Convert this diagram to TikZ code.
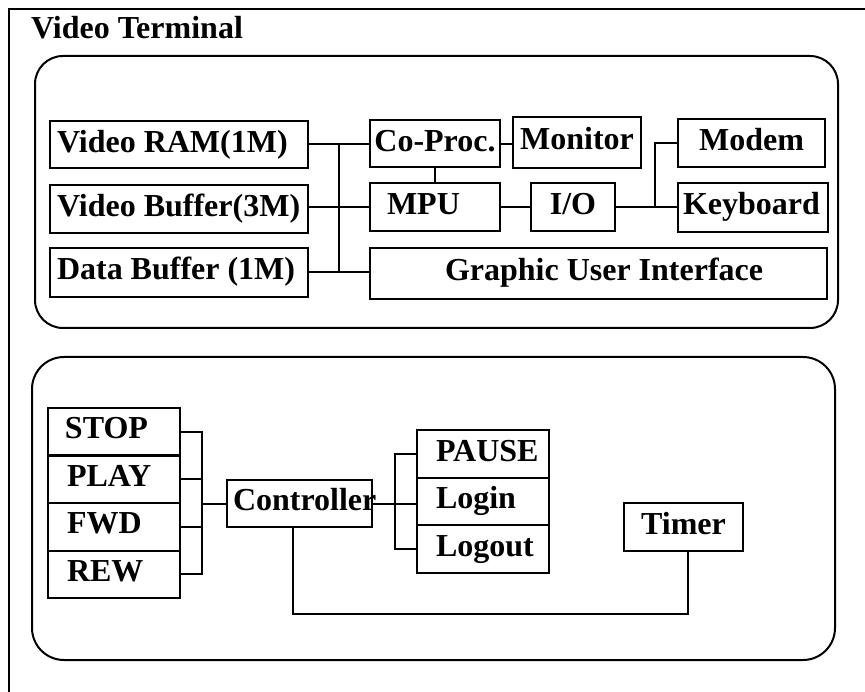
\documentclass[tikz,border=0pt]{standalone}
\usepackage{fontspec}
\setmainfont{Liberation Serif}
\newcommand\lbx[3]{\makebox[#1][l]{\hspace*{#2}#3}}
\begin{document}
\begin{tikzpicture}[x=1pt,y=-1pt,line width=2pt,
  every node/.append style={font=\fontsize{32}{38}\selectfont\bfseries},
  box/.style={draw,line width=2pt,inner sep=0pt,text height=22.4pt,text depth=8pt}]
\useasboundingbox (0,0) rectangle (865,692);
\clip (0,0) rectangle (865,692);
% outer frame (cut off at right and bottom)
\draw (9,700) -- (9,9) -- (880,9);
\node[anchor=base west,inner sep=0pt] (title) at (30,39) {Video Terminal};
% group frames
\draw[rounded corners=28pt] (35,56) rectangle (838,328);
\draw[rounded corners=32pt] (32,357) rectangle (835,660);
% upper boxes
\node[box,minimum width=258pt,minimum height=47pt] (vram) at (179,145) {\lbx{258pt}{7pt}{Video RAM(1M)}};
\node[box,minimum width=258pt,minimum height=48pt] (vbuf) at (179,209) {\lbx{258pt}{7pt}{Video Buffer(3M)}};
\node[box,minimum width=258pt,minimum height=49pt] (dbuf) at (179,272.5) {\lbx{258pt}{7pt}{Data Buffer (1M)}};
\node[box,minimum width=130pt,minimum height=47pt] (coproc) at (435,144) {Co-Proc.};
\node[box,minimum width=130pt,minimum height=48pt] (mpu) at (435,207) {\lbx{130pt}{17pt}{MPU}};
\node[box,minimum width=457pt,minimum height=51pt] (gui) at (598.5,273.5) {\lbx{457pt}{75pt}{Graphic User Interface}};
\node[box,minimum width=128pt,minimum height=51pt] (monitor) at (577,142.5) {Monitor};
\node[box,minimum width=84pt,minimum height=48pt] (io) at (573,207) {I/O};
\node[box,minimum width=147pt,minimum height=48pt] (modem) at (751.5,143) {Modem};
\node[box,minimum width=150pt,minimum height=49pt] (kbd) at (753,207.5) {\lbx{150pt}{5pt}{Keyboard}};
% upper connectors
\coordinate (b0) at (339,0);
\coordinate (b3) at (655,0);
\draw (coproc.west) -- (coproc.west -| vram.east);
\draw (mpu.west) -- (mpu.west -| vbuf.east);
\draw (dbuf.east) -- (dbuf.east -| gui.west);
\draw (b0 |- coproc.west) -- (b0 |- dbuf.east);
\draw (coproc.south) -- (mpu.north);
\draw (coproc.east) -- (coproc.east -| monitor.west);
\draw (mpu.east) -- (io.west);
\draw (io.east) -- (io.east -| kbd.west);
\draw (b3 |- io.east) |- (modem.west);
% lower boxes
\node[box,minimum width=132pt,minimum height=47.5pt] (stop) at (114,431.75) {\lbx{132pt}{17pt}{STOP}};
\node[box,minimum width=132pt,minimum height=47.5pt] (play) at (114,479.25) {\lbx{132pt}{19pt}{PLAY}};
\node[box,minimum width=132pt,minimum height=47.5pt] (fwd) at (114,526.75) {\lbx{132pt}{19pt}{FWD}};
\node[box,minimum width=132pt,minimum height=47.5pt] (rew) at (114,574.25) {\lbx{132pt}{19pt}{REW}};
\node[box,minimum width=145pt,minimum height=47pt] (ctrl) at (299.5,503.5) {\lbx{145pt}{6pt}{Controller}};
\node[box,minimum width=132pt,minimum height=47.67pt] (pause) at (483,453.83) {\lbx{132pt}{19pt}{PAUSE}};
\node[box,minimum width=132pt,minimum height=47.67pt] (login) at (483,501.5) {\lbx{132pt}{19pt}{Login}};
\node[box,minimum width=132pt,minimum height=47.67pt] (logout) at (483,549.17) {\lbx{132pt}{19pt}{Logout}};
\node[box,minimum width=119pt,minimum height=48pt] (timer) at (683.5,527) {Timer};
% lower connectors
\coordinate (b1) at (202,0);
\coordinate (b2) at (395,0);
\draw (stop.east) -| (b1 |- rew.east) -- (rew.east);
\draw (play.east) -- (play.east -| b1);
\draw (fwd.east) -- (fwd.east -| b1);
\draw (ctrl.west) -- (ctrl.west -| b1);
\draw (ctrl.east) -- (ctrl.east -| login.west);
\draw (pause.west) -| (b2 |- logout.west) -- (logout.west);
\draw ([xshift=-7pt]ctrl.south) -- ++(0,86) -| ([xshift=4pt]timer.south);
\end{tikzpicture}
\end{document}
